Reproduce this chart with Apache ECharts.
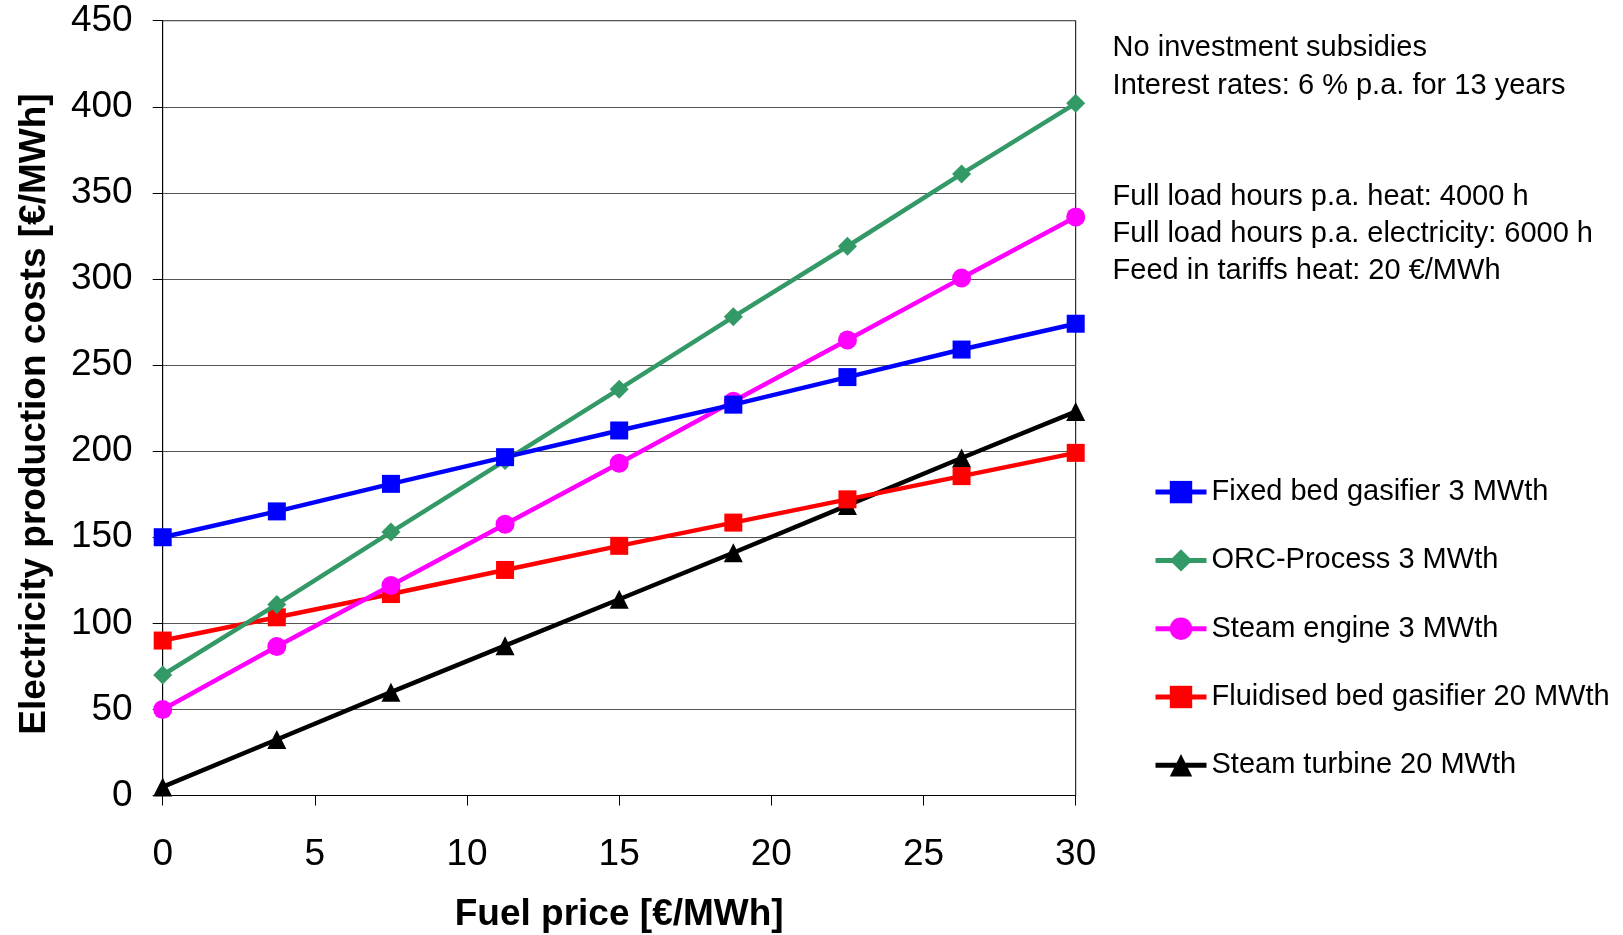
<!DOCTYPE html>
<html>
<head>
<meta charset="utf-8">
<script src="https://cdn.jsdelivr.net/npm/echarts@6/dist/echarts.min.js"></script>
<style>
html,body{margin:0;padding:0;background:#fff;overflow:hidden;}
#chart{width:1623px;height:935px;}
</style>
</head>
<body>
<div id="chart"></div>
<script>
// ---- data ----
var fuelPrice = [0, 3.75, 7.5, 11.25, 15, 18.75, 22.5, 26.25, 30];
var fixedBed = [150, 165, 181, 196.5, 212, 227, 243, 259, 274];
var orcProcess = [70, 111, 153, 194.5, 236, 278, 319, 361, 402];
var steamEngine = [50, 86.5, 122, 157.5, 193, 229, 264.5, 300.5, 336];
var fluidBed = [90, 103.5, 117, 131, 145, 158.5, 172, 185.5, 199];
var steamTurbine = [5, 32.5, 60, 87, 114, 141, 168.5, 196, 223];
var seriesNames = ['Fixed bed gasifier 3 MWth', 'ORC-Process 3 MWth', 'Steam engine 3 MWth', 'Fluidised bed gasifier 20 MWth', 'Steam turbine 20 MWth'];
var notesTop = ['No investment subsidies', 'Interest rates: 6 % p.a. for 13 years'];
var notesBottom = ['Full load hours p.a. heat: 4000 h', 'Full load hours p.a. electricity: 6000 h', 'Feed in tariffs heat: 20 €/MWh'];
var xTitle = 'Fuel price [€/MWh]';
var yTitle = 'Electricity production costs [€/MWh]';

var FONT = '"Liberation Sans", Arial, Helvetica, sans-serif';
var colors = ['#0000FF', '#339966', '#FF00FF', '#FF0000', '#000000'];
var symbols = ['rect', 'diamond', 'circle', 'rect', 'triangle'];
var symbolSizes = [18, 19, 19, 18, 19];
var valueSets = [fixedBed, orcProcess, steamEngine, fluidBed, steamTurbine];

function pairs(ys) {
  return fuelPrice.map(function (x, i) { return [x, ys[i]]; });
}

var series = seriesNames.map(function (name, i) {
  return {
    name: name,
    type: 'line',
    data: pairs(valueSets[i]),
    symbol: symbols[i],
    symbolSize: symbolSizes[i],
    showAllSymbol: true,
    lineStyle: { color: colors[i], width: 4.5 },
    itemStyle: { color: colors[i], borderWidth: 0 },
    emphasis: { disabled: true },
    animation: false,
    z: 10 - i
  };
});

var legendCenters = [489.6, 557.9, 626.2, 694.5, 762.8];
var legends = seriesNames.map(function (name, i) {
  return {
    data: [name],
    left: 1153,
    top: legendCenters[i] - 12,
    padding: 0,
    orient: 'vertical',
    itemWidth: 51,
    itemHeight: 28,
    itemGap: 0,
    selectedMode: false,
    lineStyle: { width: 5 },
    textStyle: { fontSize: 29, fontFamily: FONT, color: '#000', lineHeight: 28, padding: 0 }
  };
});

var noteCenters = [47.5, 85.8, 196.6, 233.8, 271.1];
var allNotes = notesTop.concat(notesBottom);
var graphics = allNotes.map(function (t, i) {
  return {
    type: 'text',
    x: 1112.6,
    y: noteCenters[i],
    style: { text: t, fontSize: 29, fontFamily: FONT, fill: '#000', align: 'left', verticalAlign: 'middle' }
  };
});

var chart = echarts.init(document.getElementById('chart'), null, { renderer: 'canvas' });
chart.setOption({
  backgroundColor: '#fff',
  animation: false,
  grid: {
    left: 162.7, right: 1623 - 1075.7, top: 20.7, bottom: 935 - 795.5,
    show: true, borderColor: '#000', borderWidth: 1, backgroundColor: 'transparent',
    containLabel: false,
    outerBoundsMode: 'none'
  },
  legend: legends,
  graphic: graphics,
  xAxis: {
    type: 'value', min: 0, max: 30, interval: 5,
    name: xTitle, nameLocation: 'middle', nameGap: 101,
    nameTextStyle: { fontSize: 37, fontWeight: 'bold', fontFamily: FONT, color: '#000' },
    axisLine: { show: true, lineStyle: { color: '#000', width: 1 } },
    axisTick: { show: true, inside: false, length: 10, lineStyle: { color: '#000' } },
    axisLabel: { fontSize: 37, fontFamily: FONT, color: '#000', margin: 41 },
    splitLine: { show: false }
  },
  yAxis: {
    type: 'value', min: 0, max: 450, interval: 50,
    name: yTitle, nameLocation: 'middle', nameGap: 109, nameRotate: 90,
    nameTextStyle: { fontSize: 37, fontWeight: 'bold', fontFamily: FONT, color: '#000', padding: [0, 12, 0, 0] },
    axisLine: { show: true, lineStyle: { color: '#000', width: 1 } },
    axisTick: { show: true, inside: false, length: 10, lineStyle: { color: '#000' } },
    axisLabel: { fontSize: 37, fontFamily: FONT, color: '#000', margin: 30 },
    splitLine: { show: true, lineStyle: { color: '#555', width: 1.2 } }
  },
  series: series
});
</script>
</body>
</html>
